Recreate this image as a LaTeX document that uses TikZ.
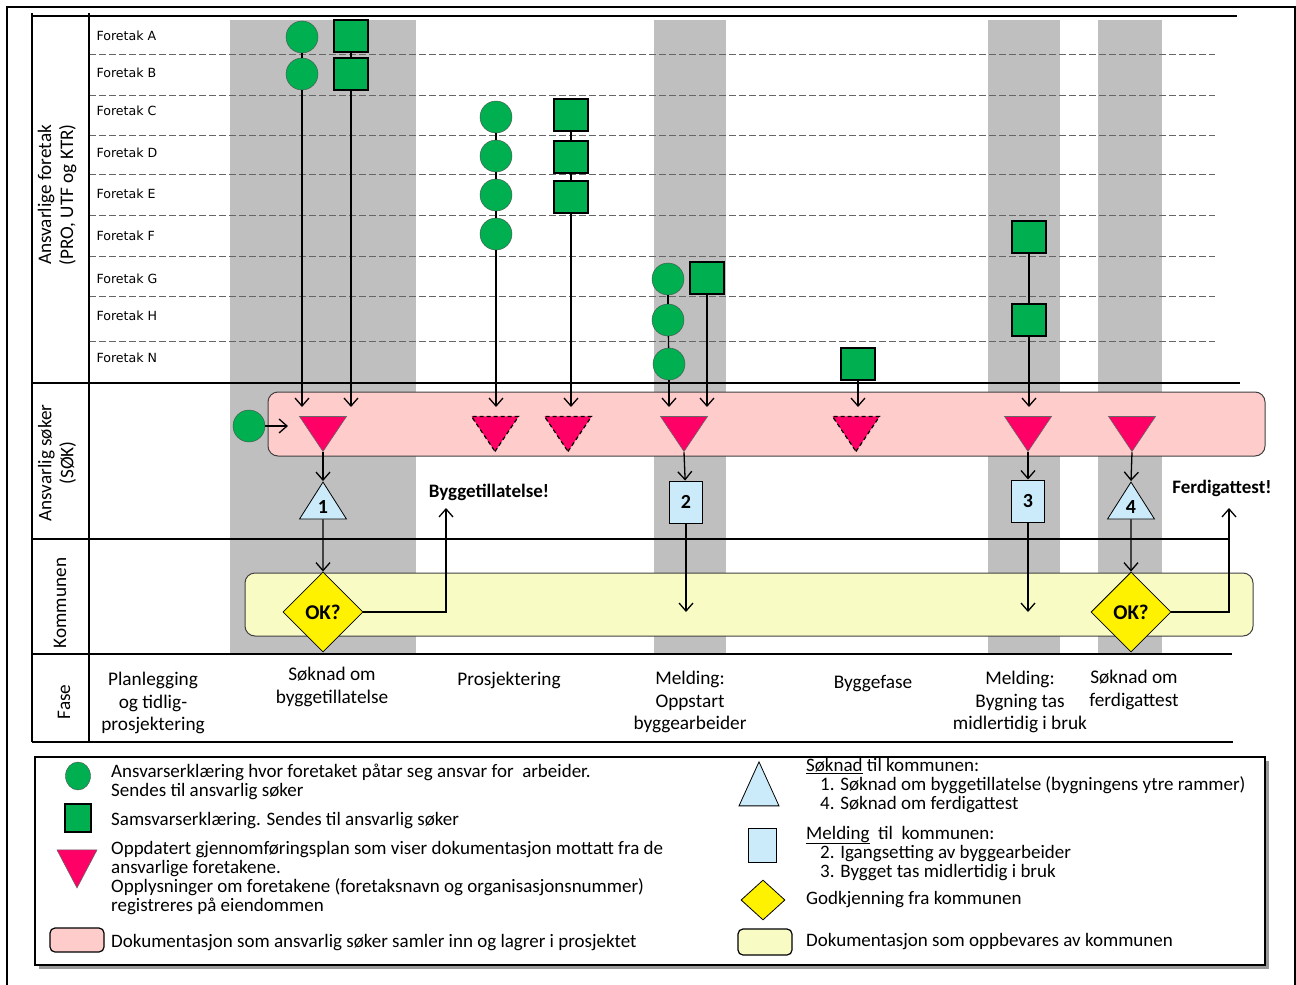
\documentclass[tikz,border=0pt]{standalone}
\usepackage{xcolor}
\usepackage{fontspec}
\setmainfont{Carlito}
\newfontfamily\firmfont{DejaVu Sans}
\usetikzlibrary{positioning}
\usetikzlibrary{arrows.meta}
\usetikzlibrary{shapes.geometric}

\definecolor{signgreen}{HTML}{00B050}
\definecolor{planred}{HTML}{FF0066}
\definecolor{sokpink}{HTML}{FFCCCC}
\definecolor{komyellow}{HTML}{F8FCC4}
\definecolor{msgblue}{HTML}{CCEBFA}
\definecolor{phasegray}{HTML}{BFBFBF}

\begin{document}
\begin{tikzpicture}[x=1pt,y=-1pt]
			\tikzstyle{resp} = [draw=black!70, fill=signgreen, circle, minimum size=32pt, inner sep=0pt]
			\tikzstyle{conf} = [draw, line width=1.2pt, fill=signgreen, minimum width=34pt, minimum height=32pt, inner sep=0pt]
			\tikzstyle{plan} = [draw=black!60, line width=0.6pt, fill=planred, isosceles triangle, isosceles triangle stretches, shape border rotate=270, minimum width=47pt, minimum height=35pt, inner sep=0pt]
			\tikzstyle{dplan} = [plan, draw=black, line width=1.2pt, dash pattern=on 4pt off 3pt]
			\tikzstyle{apply} = [draw, line width=0.8pt, fill=msgblue, isosceles triangle, isosceles triangle stretches, shape border rotate=90, minimum width=47pt, minimum height=37pt, inner sep=0pt, font=\bfseries\fontsize{20}{20}\selectfont]
			\tikzstyle{notice} = [draw, line width=1pt, fill=msgblue, minimum width=33pt, minimum height=42pt, inner sep=0pt, font=\bfseries\fontsize{20}{20}\selectfont]
			\tikzstyle{check} = [draw, line width=0.8pt, fill=yellow, diamond, minimum width=80pt, minimum height=80pt, inner sep=0pt, font=\bfseries\fontsize{21}{21}\selectfont]
			\tikzstyle{arrow} = [-{Straight Barb[length=8pt, width=14pt]}, line width=1.3pt]
			\tikzstyle{link} = [draw, line width=1.3pt]
			\tikzstyle{rule} = [line width=1.2pt]
			\tikzstyle{gridline} = [black!60, line width=1pt, dash pattern=on 7pt off 3pt]
			\tikzstyle{firm} = [anchor=west, font=\firmfont\fontsize{12.6}{14}\selectfont]
			\tikzstyle{phase} = [align=center, font=\fontsize{19.3}{22.5}\selectfont]
			\tikzstyle{lane} = [rotate=90, align=center, font=\fontsize{19.2}{22}\selectfont]
			\tikzstyle{flag} = [font=\bfseries\fontsize{19}{19}\selectfont]
			\tikzstyle{legtext} = [anchor=base west, align=left, inner sep=0pt, font=\fontsize{19}{19}\selectfont]
			
			\useasboundingbox (0,0) rectangle (1296,985);
			
			% phase columns
			\fill[phasegray] (230,20) rectangle (416,654);
			\fill[phasegray] (654,20) rectangle (726,654);
			\fill[phasegray] (988,20) rectangle (1060,654);
			\fill[phasegray] (1098,20) rectangle (1162,654);
			
			\draw[rule] (7,985) |- (1295,7) -- (1295,985);
			
			% rows
			\foreach \y in {54,95,135,174,215,256,296,341}
				\draw[gridline] (89,\y) -- (1215,\y);
			\foreach \y/\n in {36/A,73/B,111/C,153/D,194/E,236/F,279/G,316/H,358/N}
				\node[firm] (f\n) at (93,\y) {Foretak \n};
			
			\draw[rule] (32,16) -- (1237,16);
			\draw[rule] (32,383) -- (1240,383);
			\draw[rule] (32,539) -- (1229,539);
			\draw[rule] (32,654) -- (1232,654);
			\draw[rule] (32,742) -- (1233,742);
			\draw[rule] (32,13) -- (32,742);
			\draw[rule] (89,13) -- (89,742);
			
			\node[lane] (lfirm) at (57,195) {Ansvarlige foretak\\(PRO, UTF og KTR)};
			\node[lane] (lsok) at (57,463) {Ansvarlig søker\\(SØK)};
			\node[lane] (lkom) at (60,603) {Kommunen};
			\node[lane] (lfase) at (64,702) {Fase};
			
			% documentation areas
			\draw[draw=black!75, fill=sokpink, line width=1pt, rounded corners=10pt] (268,392) rectangle (1265,456);
			\draw[draw=black!75, fill=komyellow, line width=1pt, rounded corners=10pt] (245,573) rectangle (1253,636);
			
			\coordinate (drop) at (0,407);
			\coordinate (komin) at (0,612);
			
			% declarations
			\node [resp] (c1a) at (302,37) {};
			\node [resp] (c1b) at (302,74) {};
			\node [conf] (s1a) at (351,36) {};
			\node [conf] (s1b) at (351,74) {};
			\foreach \n/\y in {c/117,d/156,e/195,f/234}
				\node [resp] (c2\n) at (496,\y) {};
			\foreach \n/\y in {c/115,d/157,e/197}
				\node [conf] (s2\n) at (571,\y) {};
			\node [resp] (c3g) at (668,279) {};
			\node [resp] (c3h) at (668,320) {};
			\node [resp] (c3n) at (669,364) {};
			\node [conf] (s3g) at (707,278) {};
			\node [conf] (s4n) at (858,364) {};
			\node [conf] (s5f) at (1029,237) {};
			\node [conf] (s5h) at (1029,320) {};
			
			\path [link] (c1a) -- (c1b);
			\path [link] (s1a) -- (s1b);
			\path [link] (c2c) -- (c2d);
			\path [link] (c2d) -- (c2e);
			\path [link] (c2e) -- (c2f);
			\path [link] (s2c) -- (s2d);
			\path [link] (s2d) -- (s2e);
			\path [link] (c3g) -- (c3h);
			\path [link] (c3h) -- (c3n);
			\path [link] (s5f) -- (s5h);
			
			\draw [arrow] (c1b) -- (c1b |- drop);
			\draw [arrow] (s1b) -- (s1b |- drop);
			\draw [arrow] (c2f) -- (c2f |- drop);
			\draw [arrow] (s2e) -- (s2e |- drop);
			\draw [arrow] (c3n) -- (c3n |- drop);
			\draw [arrow] (s3g) -- (s3g |- drop);
			\draw [arrow] (s4n) -- (s4n |- drop);
			\draw [arrow] (s5h) -- (s5h |- drop);
			
			% plans
			\node [plan] (p1) at (323,429) {};
			\node [dplan] (p2) at (495,429) {};
			\node [dplan] (p3) at (568,429) {};
			\node [plan] (p4) at (684,429) {};
			\node [dplan] (p5) at (856,429) {};
			\node [plan] (p6) at (1028,429) {};
			\node [plan] (p7) at (1132,429) {};
			
			\node [resp] (c0) at (249,426) {};
			\coordinate (sokin) at (288,426);
			\draw [arrow] (c0) -- (sokin);
			
			% to the municipality
			\node [apply] (q1) at (323,507) {1};
			\node [notice] (q2) at (686,502) {2};
			\node [notice] (q3) at (1028,501) {3};
			\node [apply] (q4) at (1131,507) {4};
			\node [check] (ok1) at (323,612) {OK?};
			\node [check] (ok4) at (1131,612) {OK?};
			
			\draw [arrow] (p1.apex) -- (q1.apex);
			\draw [arrow] (q1) -- (ok1);
			\draw [arrow] (p4.apex) -- (q2);
			\draw [arrow] (q2) -- (q2 |- komin);
			\draw [arrow] (p6.apex) -- (q3);
			\draw [arrow] (q3) -- (q3 |- komin);
			\draw [arrow] (p7.apex) -- (q4.apex);
			\draw [arrow] (q4) -- (ok4);
			
			\node [flag] (permit) at (489,492) {Byggetillatelse!};
			\coordinate (permitx) at (446,508);
			\draw [arrow] (ok1.east) -| (permitx);
			\node [flag] (final) at (1222,488) {Ferdigattest!};
			\coordinate (finalx) at (1229,508);
			\draw [arrow] (ok4.east) -| (finalx);
			
			% phases
			\node [phase] (ph1) at (153,703) {Planlegging\\og tidlig-\\prosjektering};
			\node [phase] (ph2) at (332,687) {Søknad om\\byggetillatelse};
			\node [phase] (ph3) at (509,680) {Prosjektering};
			\node [phase] (ph4) at (690,702) {Melding:\\Oppstart\\byggearbeider};
			\node [phase] (ph5) at (873,684) {Byggefase};
			\node [phase] (ph6) at (1020,702) {Melding:\\Bygning tas\\midlertidig i bruk};
			\node [phase] (ph7) at (1134,690) {Søknad om\\ferdigattest};
			
			% legend
			\fill[black!40] (39,761) rectangle (1269,969);
			\draw[line width=1.2pt, fill=white] (35,757) rectangle (1265,965);
			\node [resp, ellipse, minimum width=25pt, minimum height=28pt] (kresp) at (78,776) {};
			\node [conf, minimum width=26pt, minimum height=28pt] (kconf) at (78,818) {};
			\node [plan, minimum width=40pt, minimum height=38pt] (kplan) at (77,862) {};
			\draw[line width=1.2pt, fill=sokpink, rounded corners=5pt] (50,928) rectangle (104,952);
			\node [apply, minimum width=40pt, minimum height=44pt] (kapply) at (759,793) {};
			\node [notice, minimum width=28pt, minimum height=34pt] (knotice) at (762,845) {};
			\node [check, minimum width=44pt, minimum height=40pt] (kcheck) at (763,900) {};
			\draw[line width=1.2pt, fill=komyellow, rounded corners=5pt] (738,929) rectangle (792,955);
			
			\node [legtext] (tresp) at (111,796) {Ansvarserklæring hvor foretaket påtar seg ansvar for\ \ arbeider.\\Sendes til ansvarlig søker};
			\node [legtext] (tconf) at (111,825) {Samsvarserklæring. Sendes til ansvarlig søker};
			\node [legtext] (tplan) at (111,911) {Oppdatert gjennomføringsplan som viser dokumentasjon mottatt fra de\\ansvarlige foretakene.\\Opplysninger om foretakene (foretaksnavn og organisasjonsnummer)\\registreres på eiendommen};
			\node [legtext] (tsok) at (111,947) {Dokumentasjon som ansvarlig søker samler inn og lagrer i prosjektet};
			\node [legtext] (tapply) at (806,809) {\underline{Søknad} til kommunen:\\\hspace*{14pt}1. Søknad om byggetillatelse (bygningens ytre rammer)\\\hspace*{14pt}4. Søknad om ferdigattest};
			\node [legtext] (tnotice) at (806,877) {\underline{Melding}\ \ til\ \ kommunen:\\\hspace*{14pt}2. Igangsetting av byggearbeider\\\hspace*{14pt}3. Bygget tas midlertidig i bruk};
			\node [legtext] (tcheck) at (806,904) {Godkjenning fra kommunen};
			\node [legtext] (tkom) at (806,946) {Dokumentasjon som oppbevares av kommunen};
\end{tikzpicture}
\end{document}
